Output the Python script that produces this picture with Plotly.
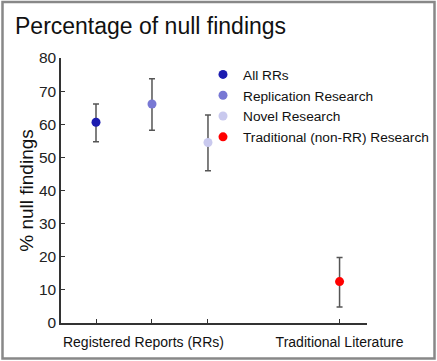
import plotly.graph_objects as go

series_names = ["All RRs", "Replication Research", "Novel Research", "Traditional (non-RR) Research"]
x_pos = [1, 2, 3, 5.35]
values = [60.6, 66.1, 54.5, 12.5]
ci_upper = [66.1, 73.7, 62.8, 19.8]
ci_lower = [54.7, 58.2, 46.0, 4.8]
colors = ["#1c1cb0", "#7878d4", "#c9c9ee", "#ff0000"]
tick_vals = [1, 2, 3, 5.35]
label_vals = [1.848, 5.35]
label_text = ["Registered Reports (RRs)", "Traditional Literature"]

W, H = 437, 361
ml, mr, mt, mb = 61, 70, 58, 38
pw, ph = W - ml - mr, H - mt - mb
xrange_ = [0.375, 5.84]

fig = go.Figure()
for name, x, v, hi, lo, c in zip(series_names, x_pos, values, ci_upper, ci_lower, colors):
    fig.add_trace(go.Scatter(
        x=[x], y=[v], mode="markers", name=name,
        marker=dict(color=c, size=9),
        error_y=dict(type="data", symmetric=False, array=[hi - v], arrayminus=[v - lo],
                     color="#555555", thickness=1.5, width=3),
    ))

font = "Liberation Sans, Arial, sans-serif"
fig.update_layout(
    width=W, height=H,
    margin=dict(l=ml, r=mr, t=mt, b=mb, autoexpand=False),
    paper_bgcolor="white", plot_bgcolor="white",
    font=dict(family=font, color="#222222"),
    title=dict(text="Percentage of null findings", font=dict(size=23, color="#111111"),
               x=15 / W, xanchor="left", xref="container",
               y=1 - 26 / H, yanchor="middle", yref="container"),
    showlegend=True,
    legend=dict(x=(243 - 40 - ml) / pw, xanchor="left", y=1 - (59 - mt) / ph, yanchor="top",
                font=dict(size=13.7, color="#111111"), bgcolor="rgba(0,0,0,0)",
                itemwidth=30, tracegroupgap=0),
    xaxis=dict(range=xrange_, tickvals=tick_vals, ticktext=["", "", "", ""],
               showline=True, linecolor="#333333", linewidth=1.5, ticks="inside", ticklen=4,
               tickcolor="#333333", showgrid=False, zeroline=False),
    xaxis2=dict(range=xrange_, overlaying="x", side="bottom", anchor="y",
                tickvals=label_vals, ticktext=label_text, ticks="", showline=False,
                showgrid=False, zeroline=False, ticklabelstandoff=9,
                tickfont=dict(size=14, color="#111111")),
    yaxis=dict(range=[0, 80], dtick=10, showline=True, linecolor="#333333", linewidth=1.5,
               ticks="inside", ticklen=4, tickcolor="#333333", showgrid=False, zeroline=False,
               tickfont=dict(size=15.5, color="#222222"),
               title=dict(text="% null findings", font=dict(size=19, color="#111111"), standoff=0)),
    shapes=[dict(type="rect", xref="paper", yref="paper",
                 x0=(2.5 - ml) / pw, x1=(434.5 - ml) / pw,
                 y0=(H - mb - 358.5) / ph, y1=(H - mb - 2) / ph,
                 line=dict(color="#888888", width=2.5), fillcolor="rgba(0,0,0,0)", layer="below")],
)
# invisible trace to activate the label axis
fig.add_trace(go.Scatter(x=[xrange_[0]], y=[0], xaxis="x2", mode="markers",
                         marker=dict(opacity=0), showlegend=False, hoverinfo="skip"))

fig.write_html("out.html", config={"displayModeBar": False},
               post_script="document.body.style.margin='0';document.body.style.overflow='hidden';")
